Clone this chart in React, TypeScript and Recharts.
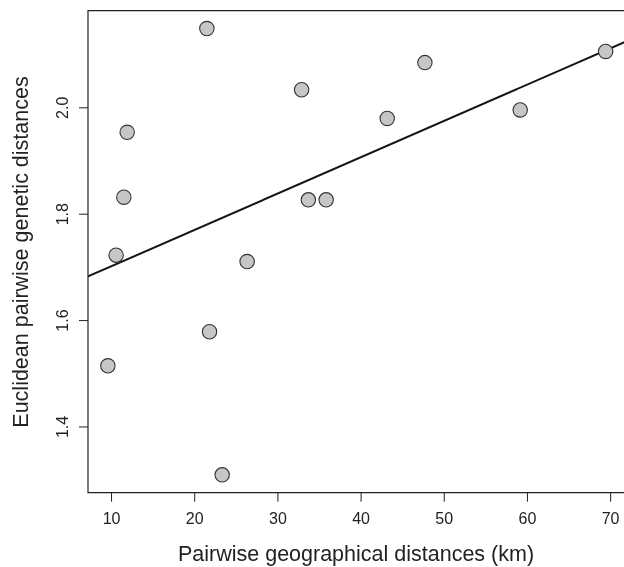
import {
  ScatterChart,
  Scatter,
  XAxis,
  YAxis,
  ReferenceLine,
  ReferenceArea,
} from "recharts";

// geographical distance (km) vs euclidean genetic distance
const geoKm = [9.56, 10.55, 11.48, 11.88, 21.46, 21.78, 23.3, 26.3, 32.85, 33.66, 35.8, 43.14, 47.67, 59.13, 69.4];
const geneticDist = [1.515, 1.723, 1.832, 1.954, 2.149, 1.579, 1.31, 1.711, 2.034, 1.827, 1.827, 1.98, 2.085, 1.996, 2.106];

const xTicks = [10, 20, 30, 40, 50, 60, 70];
const yTicks = [1.4, 1.6, 1.8, 2.0];

// fitted line
const intercept = 1.634;
const slope = 0.00683;

const X_MIN = 7.17;
const X_MAX = 71.8;
const Y_MIN = 1.2764;
const Y_MAX = 2.1826;

const points = geoKm.map((x, i) => ({ x, y: geneticDist[i] }));

const FONT = "'Liberation Sans', Arial, Helvetica, sans-serif";
const INK = "#222";

const Dot = (props: any) => (
  <circle cx={props.cx} cy={props.cy} r={7.2} fill="#c6c6c6" stroke="#333" strokeWidth={1.1} />
);

const YTick = (props: any) => {
  const { x, y, payload } = props;
  return (
    <text
      transform={`translate(${x}, ${y}) rotate(-90)`}
      textAnchor="middle"
      fontSize={16}
      fontFamily={FONT}
      fill={INK}
    >
      {payload.value.toFixed(1)}
    </text>
  );
};

export default function App() {
  return (
    <div style={{ position: "fixed", left: 8, top: 8, width: 616, height: 559, overflow: "hidden" }}>
      <ScatterChart
        width={630}
        height={559}
        margin={{ top: 2.7, right: 12.4, left: 10, bottom: 14.3 }}
      >
        <XAxis
          type="number"
          dataKey="x"
          domain={[X_MIN, X_MAX]}
          allowDataOverflow
          ticks={xTicks}
          height={60}
          axisLine={false}
          tickSize={9}
          tickMargin={11}
          tickLine={{ stroke: INK, strokeWidth: 1 }}
          tick={{ fill: INK, fontSize: 16, fontFamily: FONT }}
          label={{
            content: () => (
              <text x={348} y={553} textAnchor="middle" fontSize={21.5} fontFamily={FONT} fill={INK}>
                Pairwise geographical distances (km)
              </text>
            ),
          }}
        />
        <YAxis
          type="number"
          dataKey="y"
          domain={[Y_MIN, Y_MAX]}
          allowDataOverflow
          ticks={yTicks}
          width={70}
          axisLine={false}
          tickSize={9}
          tickMargin={10.7}
          tickLine={{ stroke: INK, strokeWidth: 1 }}
          tick={<YTick />}
          label={{
            content: () => (
              <text
                transform="translate(20.3, 244) rotate(-90)"
                textAnchor="middle"
                fontSize={21.5}
                fontFamily={FONT}
                fill={INK}
              >
                Euclidean pairwise genetic distances
              </text>
            ),
          }}
        />
        <ReferenceArea
          x1={X_MIN}
          x2={X_MAX}
          y1={Y_MIN}
          y2={Y_MAX}
          fill="none"
          stroke={INK}
          strokeWidth={1.2}
          ifOverflow="visible"
        />
        <ReferenceLine
          segment={[
            { x: X_MIN, y: intercept + slope * X_MIN },
            { x: X_MAX, y: intercept + slope * X_MAX },
          ]}
          stroke="#151515"
          strokeWidth={2}
          ifOverflow="hidden"
        />
        <Scatter data={points} shape={<Dot />} isAnimationActive={false} />
      </ScatterChart>
    </div>
  );
}
